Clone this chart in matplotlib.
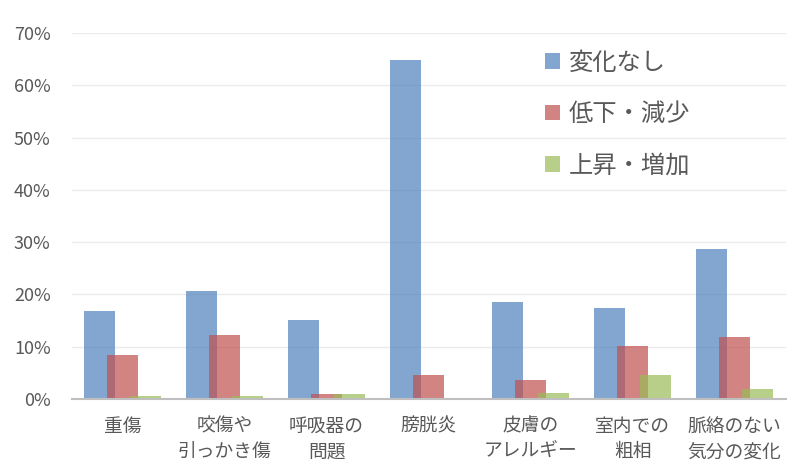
import numpy as np
import matplotlib.pyplot as plt
from matplotlib.patches import Patch
from matplotlib.ticker import FuncFormatter

plt.rcParams['font.family'] = ['Noto Sans CJK JP', 'DejaVu Sans']

categories = ["重傷", "咬傷や\n引っかき傷", "呼吸器の\n問題", "膀胱炎",
              "皮膚の\nアレルギー", "室内での\n粗相", "脈絡のない\n気分の変化"]
no_change = [16.8, 20.6, 15.1, 64.8, 18.5, 17.4, 28.7]
decrease = [8.4, 12.2, 1.0, 4.6, 3.6, 10.1, 11.9]
increase = [0.6, 0.6, 1.0, 0.0, 1.1, 4.6, 1.9]
series_names = ["変化なし", "低下・減少", "上昇・増加"]
colors = ["#4F81BD", "#C0504D", "#9BBB59"]

fig = plt.figure(figsize=(8.04, 4.72), dpi=100)
ax = fig.add_axes([0.089, 0.155, 0.888, 0.775])

x = np.arange(len(categories))
w = 0.30
off = 0.225
for i, vals in enumerate([no_change, decrease, increase]):
    ax.bar(x + (i - 1) * off, np.array(vals) / 100, width=w,
           color=colors[i], alpha=0.7, linewidth=0, zorder=2)

ax.set_xlim(-0.5, len(categories) - 0.5)
ax.set_ylim(0, 0.7)
ax.set_yticks(np.arange(0, 0.71, 0.1))
ax.yaxis.set_major_formatter(FuncFormatter(lambda v, p: f"{v*100:.0f}%"))
ax.grid(axis='y', color='#EBEBEB', linewidth=1, zorder=0)
ax.set_xticks(x)
ax.set_xticklabels(categories, fontsize=13.5, color='#595959', linespacing=1.3)
ax.tick_params(axis='y', labelsize=13, labelcolor='#595959', length=0, pad=15)
ax.tick_params(axis='x', length=0, pad=12)
for s in ['top', 'right', 'left']:
    ax.spines[s].set_visible(False)
ax.spines['bottom'].set_color('#BFBFBF')
ax.spines['bottom'].set_linewidth(1.5)

handles = [Patch(facecolor=c, alpha=0.7, linewidth=0) for c in colors]
ax.legend(handles, series_names, loc='upper left', bbox_to_anchor=(0.663, 0.955),
          frameon=False, fontsize=17.5, labelcolor='#595959',
          handlelength=0.62, handleheight=0.62, handletextpad=0.35,
          labelspacing=1.05, borderpad=0, borderaxespad=0)

fig.savefig("out.png", dpi=100)
